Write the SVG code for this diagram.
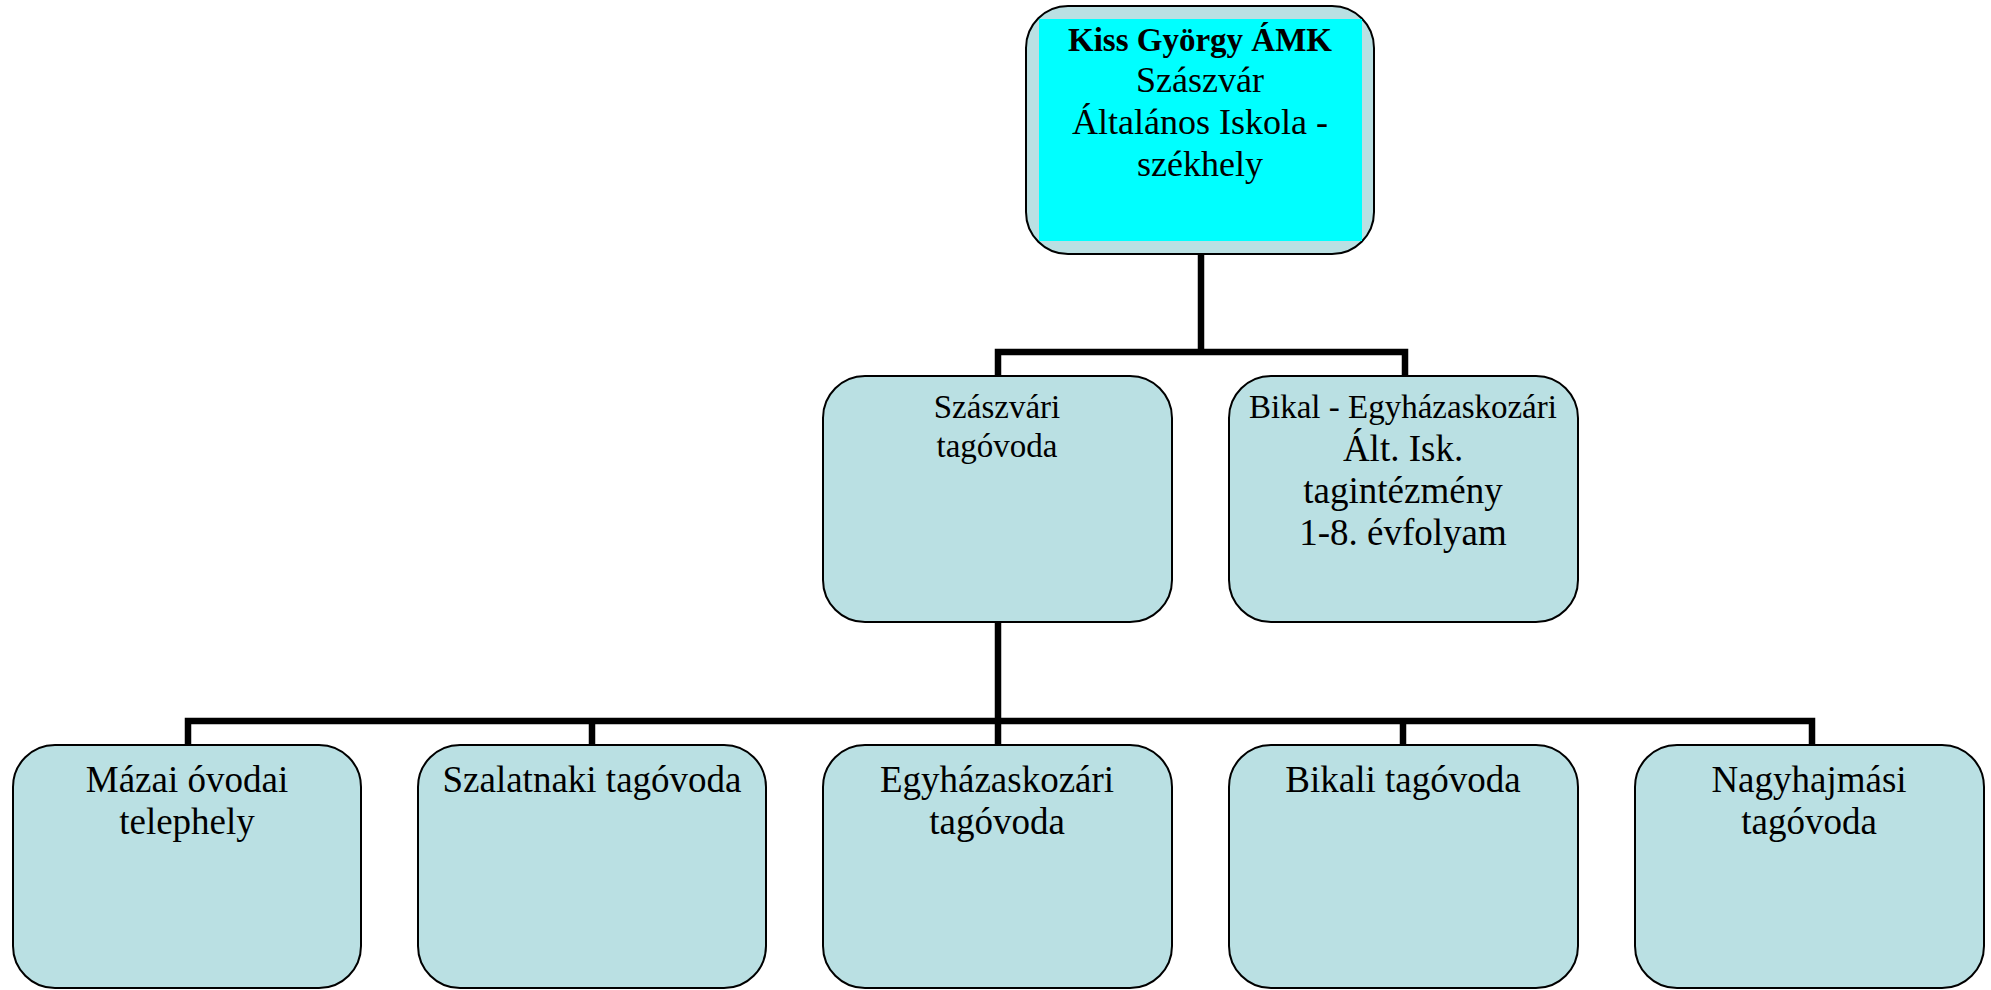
<svg xmlns="http://www.w3.org/2000/svg" width="1991" height="990" viewBox="0 0 1991 990">
  <style>
    .box { fill: #BAE0E3; stroke: #000; stroke-width: 2; }
    .t { font-family: "Liberation Serif", "Times New Roman", serif; fill: #000; text-anchor: middle; }
    .conn { fill: none; stroke: #000; stroke-width: 6.5; stroke-linejoin: miter; stroke-linecap: butt; }
  </style>
  <rect width="1991" height="990" fill="#FFFFFF"/>
  <g id="connectors">
    <path class="conn" d="M1201,254 V352"/>
    <path class="conn" d="M998,377 V352 H1405 V377"/>
    <path class="conn" d="M998,622 V721"/>
    <path class="conn" d="M188,745 V721 H1812 V745"/>
    <path class="conn" d="M592,721 V745"/>
    <path class="conn" d="M998,721 V745"/>
    <path class="conn" d="M1403,721 V745"/>
  </g>
  <g id="node-top">
    <rect class="box" x="1026" y="6" width="348" height="248" rx="42" ry="42"/>
    <rect x="1039" y="19" width="323" height="222" fill="#00FFFF"/>
    <text class="t" x="1200" y="51" font-size="33" font-weight="bold">Kiss György ÁMK</text>
    <text class="t" x="1200" y="92" font-size="36">Szászvár</text>
    <text class="t" x="1200" y="134" font-size="36">Általános Iskola -</text>
    <text class="t" x="1200" y="176" font-size="36">székhely</text>
  </g>
  <g id="node-szaszvari">
    <rect class="box" x="823" y="376" width="349" height="246" rx="42" ry="42"/>
    <text class="t" x="997" y="418" font-size="33">Szászvári</text>
    <text class="t" x="997" y="457" font-size="33">tagóvoda</text>
  </g>
  <g id="node-bikal-egyhazaskozar">
    <rect class="box" x="1229" y="376" width="349" height="246" rx="42" ry="42"/>
    <text class="t" x="1403" y="418" font-size="33">Bikal - Egyházaskozári</text>
    <text class="t" x="1403" y="461" font-size="37">Ált. Isk.</text>
    <text class="t" x="1403" y="503" font-size="37">tagintézmény</text>
    <text class="t" x="1403" y="545" font-size="37">1-8. évfolyam</text>
  </g>
  <g id="node-mazai">
    <rect class="box" x="13" y="745" width="348" height="243" rx="42" ry="42"/>
    <text class="t" x="187" y="792" font-size="37">Mázai óvodai</text>
    <text class="t" x="187" y="834" font-size="37">telephely</text>
  </g>
  <g id="node-szalatnaki">
    <rect class="box" x="418" y="745" width="348" height="243" rx="42" ry="42"/>
    <text class="t" x="592" y="792" font-size="37">Szalatnaki tagóvoda</text>
  </g>
  <g id="node-egyhazaskozari">
    <rect class="box" x="823" y="745" width="349" height="243" rx="42" ry="42"/>
    <text class="t" x="997" y="792" font-size="37">Egyházaskozári</text>
    <text class="t" x="997" y="834" font-size="37">tagóvoda</text>
  </g>
  <g id="node-bikali">
    <rect class="box" x="1229" y="745" width="349" height="243" rx="42" ry="42"/>
    <text class="t" x="1403" y="792" font-size="37">Bikali tagóvoda</text>
  </g>
  <g id="node-nagyhajmasi">
    <rect class="box" x="1635" y="745" width="349" height="243" rx="42" ry="42"/>
    <text class="t" x="1809" y="792" font-size="37">Nagyhajmási</text>
    <text class="t" x="1809" y="834" font-size="37">tagóvoda</text>
  </g>
</svg>
